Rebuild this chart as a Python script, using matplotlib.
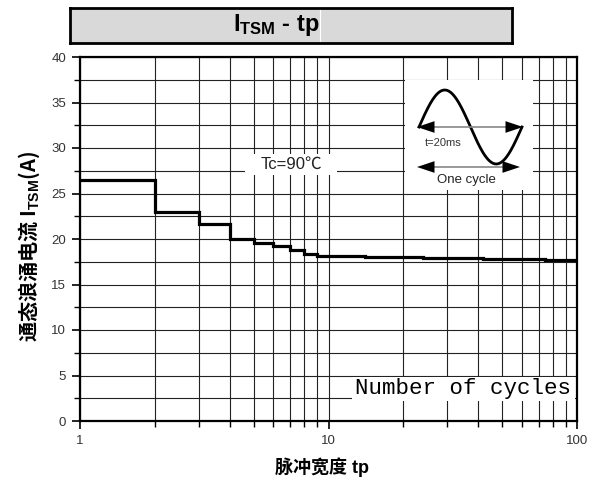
import numpy as np
import matplotlib
matplotlib.use("Agg")
import matplotlib.pyplot as plt
from matplotlib.patches import Rectangle

plt.rcParams['font.family'] = ['Liberation Sans', 'Noto Sans CJK SC', 'DejaVu Sans']
plt.rcParams['mathtext.fontset'] = 'custom'
plt.rcParams['mathtext.rm'] = 'Liberation Sans'
plt.rcParams['mathtext.bf'] = 'Liberation Sans:bold'

# step edges (number of cycles) and surge current values (A)
cycle_edges = [1, 2, 3, 4, 5, 6, 7, 8, 9, 14, 24, 42, 74, 100]
itsm_values = [26.5, 23.0, 21.7, 20.0, 19.6, 19.2, 18.8, 18.4, 18.15, 18.05, 17.9, 17.8, 17.65]

y_ticks = [0, 5, 10, 15, 20, 25, 30, 35, 40]
x_ticks = [1, 10, 100]
x_ticklabels = ["1", "10", "100"]

W, H = 591, 484
fig = plt.figure(figsize=(W / 100, H / 100), dpi=100)

def fx(px):
    return px / W

def fy(py):
    return 1 - py / H

ax = fig.add_axes([fx(80), fy(421), fx(577) - fx(80), fy(57) - fy(421)])
ax.set_xscale('log')
ax.set_xlim(1, 100)
ax.set_ylim(0, 40)

# grid
ax.set_yticks(y_ticks)
ax.set_yticks(np.arange(2.5, 40, 5), minor=True)
ax.set_xticks(x_ticks)
ax.set_xticklabels(x_ticklabels)
ax.grid(True, which='both', color='#222222', lw=0.8)
ax.set_axisbelow(True)

ax.tick_params(which='major', direction='out', length=6, width=1.2, labelsize=9.5,
               labelcolor='#333333', pad=4)
ax.tick_params(which='minor', direction='out', length=4, width=1.0, labelleft=False,
               labelbottom=False)
for s in ax.spines.values():
    s.set_linewidth(1.6)

ax.stairs(itsm_values, cycle_edges, baseline=None, color='black', lw=2.3, zorder=3)

# white boxes behind labels
ax.add_patch(Rectangle((0.332, 0.676), 0.185, 0.058, transform=ax.transAxes,
                       fc='white', ec='none', zorder=2))
ax.text(0.4245, 0.705, "Tc=90℃", transform=ax.transAxes, ha='center', va='center',
        fontsize=12, color='#222222', zorder=4,
        family=['Liberation Sans', 'Noto Sans CJK SC', 'DejaVu Sans'])

ax.add_patch(Rectangle((0.547, 0.055), 0.449, 0.066, transform=ax.transAxes,
                       fc='white', ec='none', zorder=2))
ax.text(0.553, 0.088, "Number of cycles", transform=ax.transAxes, ha='left', va='center',
        fontsize=16.2, family='Liberation Mono', color='black', zorder=4)

ax.set_xlabel("脉冲宽度 tp", fontsize=13, fontweight='bold',
              family=['Liberation Sans', 'Noto Sans CJK SC'])
ax.xaxis.set_label_coords(0.487, -0.099)
ax.set_ylabel(r"通态浪涌电流 I$_{\mathbf{TSM}}$(A)", fontsize=14.5, fontweight='bold',
              family=['Noto Sans CJK SC', 'Liberation Sans'])
ax.yaxis.set_label_coords(-0.076, 0.478)

# inset waveform sketch
ins = fig.add_axes([fx(405), fy(190), fx(533) - fx(405), fy(80) - fy(190)])
ins.set_xlim(0, 128)
ins.set_ylim(110, 0)
ins.axis('off')
ins.add_patch(Rectangle((0, 0), 1, 1, transform=ins.transAxes, fc='white', ec='none'))
t = np.linspace(0, 1, 200)
ins.plot(14 + 103 * t, 47 - 37 * np.sin(2 * np.pi * t), color='black', lw=2.0)
for yy, x0, x1 in [(47, 12, 118), (87, 12, 115)]:
    ins.plot([x0 + 10, x1 - 10], [yy, yy], color='#888888', lw=1.2)
    mid = (x0 + x1) / 2
    for xe in (x0, x1):
        ins.annotate('', xy=(xe, yy), xytext=(mid, yy),
                     arrowprops=dict(arrowstyle='-|>,head_length=0.9,head_width=0.3',
                                     mutation_scale=14, lw=0, color='black',
                                     shrinkA=0, shrinkB=0))
ins.text(20, 63, "t=20ms", fontsize=8, ha='left', va='center', color='#333333')
ins.text(61, 100, "One cycle", fontsize=9.5, ha='center', va='center', color='#222222')

# title box
tb = fig.add_axes([fx(70), fy(43), fx(512) - fx(70), fy(8) - fy(43)])
tb.set_xticks([])
tb.set_yticks([])
tb.set_facecolor('#d9d9d9')
for s in tb.spines.values():
    s.set_linewidth(2.0)
tb.axvline((320 - 70) / (512 - 70), color='white', lw=0.8)
tb.text((276 - 70) / (512 - 70), 0.5, r"$\mathbf{I_{TSM}}$ - tp", transform=tb.transAxes,
        ha='center', va='center', fontsize=17, fontweight='bold')

fig.savefig("out.png", dpi=100)
